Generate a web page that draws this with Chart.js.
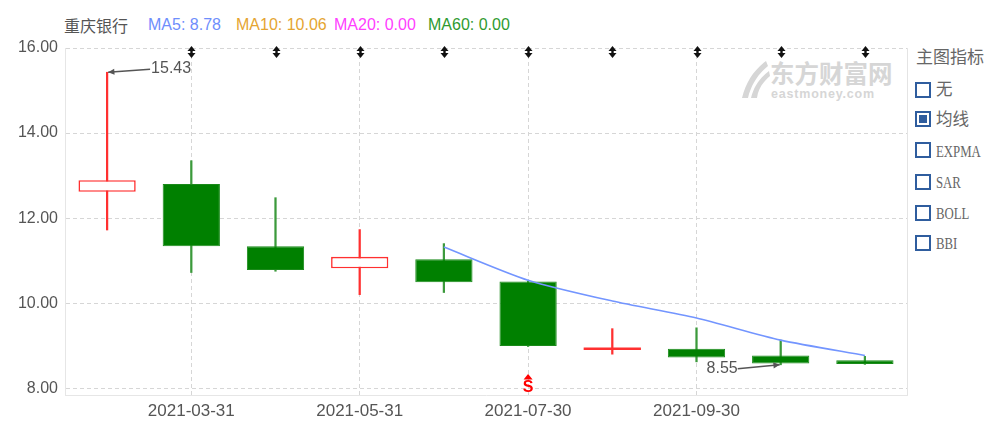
<!DOCTYPE html>
<html>
<head>
<meta charset="utf-8">
<script src="https://cdn.jsdelivr.net/npm/chart.js@4.4.1/dist/chart.umd.min.js"></script>
<style>
  html,body{margin:0;padding:0;background:#fff;}
  #wrap{position:relative;width:1000px;height:427px;overflow:hidden;font-family:"Liberation Sans",Arial,sans-serif;}
  #c{position:absolute;left:0;top:0;z-index:2;}
  .t{position:absolute;top:15px;font-size:16px;white-space:nowrap;line-height:20px;}
  #wm{position:absolute;left:738px;top:58px;z-index:1;color:#d6d6d6;}
  .lg{position:absolute;left:916px;font-size:17px;color:#666;line-height:20px;white-space:nowrap;}
  .cb{position:absolute;left:915px;width:16px;height:16px;border:2px solid #2f5d9e;box-sizing:border-box;background:#fff;}
  .cb.on::after{content:"";position:absolute;left:2px;top:2px;width:8px;height:8px;background:#2f5d9e;}
  .ll{position:absolute;left:936px;font-size:16.5px;color:#666;line-height:20px;white-space:nowrap;font-family:"Noto Sans CJK SC",sans-serif;}
  .ser{font-family:"Liberation Serif",serif;font-size:16px;display:inline-block;transform:scaleX(0.8);transform-origin:left center;}
</style>
</head>
<body>
<div id="wrap">
  <div id="wm">
    <svg width="160" height="44" viewBox="0 0 160 44" style="position:absolute;left:0;top:0">
      <path d="M4 40 C 8 24, 16 12, 28 3 L 30 8 C 20 16, 13 27, 10 40 Z" fill="#d6d6d6"/>
      <path d="M13 40 C 16 28, 22 20, 31 13 L 32 18 C 25 24, 20 31, 19 40 Z" fill="#d6d6d6"/>
    </svg>
    <div style="position:absolute;left:32px;top:0px;font-family:'Noto Sans CJK SC',sans-serif;font-weight:bold;font-size:24.5px;line-height:30px;white-space:nowrap;">东方财富网</div>
    <div style="position:absolute;left:33px;top:29px;font-family:'Liberation Sans',Arial,sans-serif;font-weight:bold;font-size:12.5px;line-height:14px;white-space:nowrap;letter-spacing:0.8px;">eastmoney.com</div>
  </div>
  <canvas id="c" width="1000" height="427"></canvas>
  <div class="t" style="left:64px;color:#555;font-family:'Noto Sans CJK SC',sans-serif;font-size:16px;">重庆银行</div>
  <div class="t" style="left:148px;color:#6e8efc;">MA5: 8.78</div>
  <div class="t" style="left:236px;color:#e5a531;">MA10: 10.06</div>
  <div class="t" style="left:334px;color:#ff40ff;">MA20: 0.00</div>
  <div class="t" style="left:428px;color:#2f9a2f;">MA60: 0.00</div>

  <div class="lg" style="top:46px;font-family:'Noto Sans CJK SC',sans-serif;">主图指标</div>
  <div class="cb" style="top:82px;"></div><div class="ll" style="top:78px;">无</div>
  <div class="cb on" style="top:111px;"></div><div class="ll" style="top:108px;">均线</div>
  <div class="cb" style="top:142px;"></div><div class="ll" style="top:140px;"><span class="ser">EXPMA</span></div>
  <div class="cb" style="top:174px;"></div><div class="ll" style="top:171px;"><span class="ser">SAR</span></div>
  <div class="cb" style="top:205px;"></div><div class="ll" style="top:202px;"><span class="ser">BOLL</span></div>
  <div class="cb" style="top:235px;"></div><div class="ll" style="top:232px;"><span class="ser">BBI</span></div>
</div>
<script>
// ---- data ----
const categories = ['2021-02-26','2021-03-31','2021-04-30','2021-05-31','2021-06-30','2021-07-30','2021-08-31','2021-09-30','2021-10-29','2021-11-30'];
const openVals  = [12.62, 12.80, 11.34, 10.82, 11.03, 10.51, 8.90, 8.93, 8.77, 8.66];
const closeVals = [12.89, 11.34, 10.78, 11.09, 10.49, 8.99, 8.91, 8.72, 8.58, 8.57];
const highVals  = [15.43, 13.35, 12.48, 11.73, 11.40, 10.52, 9.40, 9.42, 9.13, 8.75];
const lowVals   = [11.72, 10.72, 10.75, 10.20, 10.25, 8.98, 8.80, 8.62, 8.55, 8.56];
const ma5Vals   = [null, null, null, null, 11.32, 10.54, 10.05, 9.65, 9.13, 8.77];
const xTickLabels = ['2021-03-31','2021-05-31','2021-07-30','2021-09-30'];
const yTickValues = [8, 10, 12, 14, 16];
const eventMarkerIdx = [1, 2, 3, 4, 5, 6, 7, 8, 9];
const sellSignalIdx = [5];

const UP = '#ff3030', DOWN = '#008000', DOWN_WICK = '#3c9a3c';
const isUp = openVals.map((o, i) => closeVals[i] >= o);
const isDoji = openVals.map((o, i) => Math.abs(closeVals[i] - o) < 0.03);

const overlay = {
  id: 'overlay',
  afterDatasetsDraw(chart) {
    const {ctx, chartArea: a, scales: {x, y}} = chart;
    ctx.save();
    // right border
    ctx.strokeStyle = '#e4e4e4'; ctx.lineWidth = 1;
    ctx.beginPath(); ctx.moveTo(Math.round(a.right) + 0.5, a.top); ctx.lineTo(Math.round(a.right) + 0.5, a.bottom); ctx.stroke();
    // event markers at top
    ctx.fillStyle = '#111';
    eventMarkerIdx.forEach(i => {
      const px = Math.round(x.getPixelForValue(i)) + 0.5;
      const t = a.top - 2;
      ctx.beginPath(); ctx.moveTo(px, t); ctx.lineTo(px + 4, t + 5); ctx.lineTo(px - 4, t + 5); ctx.closePath(); ctx.fill();
      ctx.fillRect(px - 1.2, t + 4, 2.4, 4);
      ctx.beginPath(); ctx.moveTo(px - 4, t + 7); ctx.lineTo(px + 4, t + 7); ctx.lineTo(px, t + 12); ctx.closePath(); ctx.fill();
    });
    // sell signal
    ctx.fillStyle = '#ff0000';
    sellSignalIdx.forEach(i => {
      const px = x.getPixelForValue(i);
      const b = a.bottom;
      ctx.beginPath(); ctx.moveTo(px, b - 21); ctx.lineTo(px + 4.5, b - 15.5); ctx.lineTo(px - 4.5, b - 15.5); ctx.closePath(); ctx.fill();
      ctx.font = 'bold 16px "Liberation Sans", Arial';
      ctx.textAlign = 'center'; ctx.textBaseline = 'middle';
      ctx.fillText('S', px, b - 7);
    });
    // high / low annotations
    const arrow = (x1, y1, x2, y2) => {
      ctx.strokeStyle = '#555'; ctx.fillStyle = '#555'; ctx.lineWidth = 1.5;
      ctx.beginPath(); ctx.moveTo(x1, y1); ctx.lineTo(x2, y2); ctx.stroke();
      const ang = Math.atan2(y2 - y1, x2 - x1), L = 7;
      ctx.beginPath();
      ctx.moveTo(x2, y2);
      ctx.lineTo(x2 - L * Math.cos(ang - 0.45), y2 - L * Math.sin(ang - 0.45));
      ctx.lineTo(x2 - L * Math.cos(ang + 0.45), y2 - L * Math.sin(ang + 0.45));
      ctx.closePath(); ctx.fill();
    };
    const maxH = Math.max(...highVals), hi = highVals.indexOf(maxH);
    const minL = Math.min(...lowVals), li = lowVals.indexOf(minL);
    ctx.font = '16px "Liberation Sans", Arial';
    ctx.textBaseline = 'middle';
    let hx = x.getPixelForValue(hi), hy = y.getPixelForValue(maxH);
    arrow(hx + 43, hy - 3, hx + 1, hy);
    ctx.fillStyle = '#555'; ctx.textAlign = 'left';
    ctx.fillText(maxH.toFixed(2), hx + 44, hy - 3.5);
    let lx = x.getPixelForValue(li), ly = y.getPixelForValue(minL);
    arrow(lx - 43, ly + 4, lx - 1, ly);
    ctx.fillStyle = '#555'; ctx.textAlign = 'right';
    ctx.fillText(minL.toFixed(2), lx - 43, ly + 3.5);
    ctx.restore();
  }
};

Chart.defaults.font.family = '"Liberation Sans", Arial, sans-serif';
Chart.defaults.color = '#555';

new Chart(document.getElementById('c'), {
  data: {
    labels: categories,
    datasets: [
      {
        type: 'line', label: 'MA5', data: ma5Vals, order: 0,
        borderColor: '#7395ff', borderWidth: 1.6, pointRadius: 0, tension: 0.25, fill: false
      },
      {
        type: 'bar', label: 'body', order: 1, grouped: false,
        data: openVals.map((o, i) => [o, closeVals[i]]),
        backgroundColor: isUp.map((u, i) => isDoji[i] ? UP : (u ? '#ffffff' : DOWN)),
        borderColor: isUp.map(u => u ? UP : '#1a8a1a'),
        borderWidth: isUp.map((u, i) => isDoji[i] ? 0 : (u ? 1.6 : 1)),
        borderSkipped: false, minBarLength: 2.5,
        barPercentage: 0.68, categoryPercentage: 1
      },
      {
        type: 'bar', label: 'wick', order: 2, grouped: false,
        data: lowVals.map((l, i) => [l, highVals[i]]),
        backgroundColor: isUp.map(u => u ? UP : DOWN_WICK),
        barThickness: 1.6, borderWidth: 0
      }
    ]
  },
  options: {
    responsive: false, animation: false,
    layout: {padding: {top: 48, right: 93, left: 0, bottom: 0}},
    plugins: {legend: {display: false}, tooltip: {enabled: false}},
    scales: {
      x: {
        offset: true,
        afterFit(s) { s.height = 32; },
        grid: {
          offset: false, drawTicks: false, lineWidth: 1,
          color: ctx => xTickLabels.includes(categories[ctx.index]) ? '#d6d6d6' : 'rgba(0,0,0,0)'
        },
        border: {display: true, color: '#e6e6e6', dash: [4, 3]},
        ticks: {
          autoSkip: false, maxRotation: 0, padding: 6,
          font: {size: 17}, color: '#555',
          callback: (v, i) => xTickLabels.includes(categories[i]) ? categories[i] : ''
        }
      },
      y: {
        min: 7.84, max: 16,
        afterFit(s) { s.width = 65; },
        afterBuildTicks(s) { s.ticks = yTickValues.map(v => ({value: v})); },
        grid: {color: '#d6d6d6', drawTicks: false, lineWidth: 1},
        border: {display: true, color: '#e6e6e6', dash: [4, 3]},
        ticks: {padding: 7, font: {size: 16}, color: '#555', callback: v => Number(v).toFixed(2)}
      }
    }
  },
  plugins: [overlay]
});
</script>
</body>
</html>
